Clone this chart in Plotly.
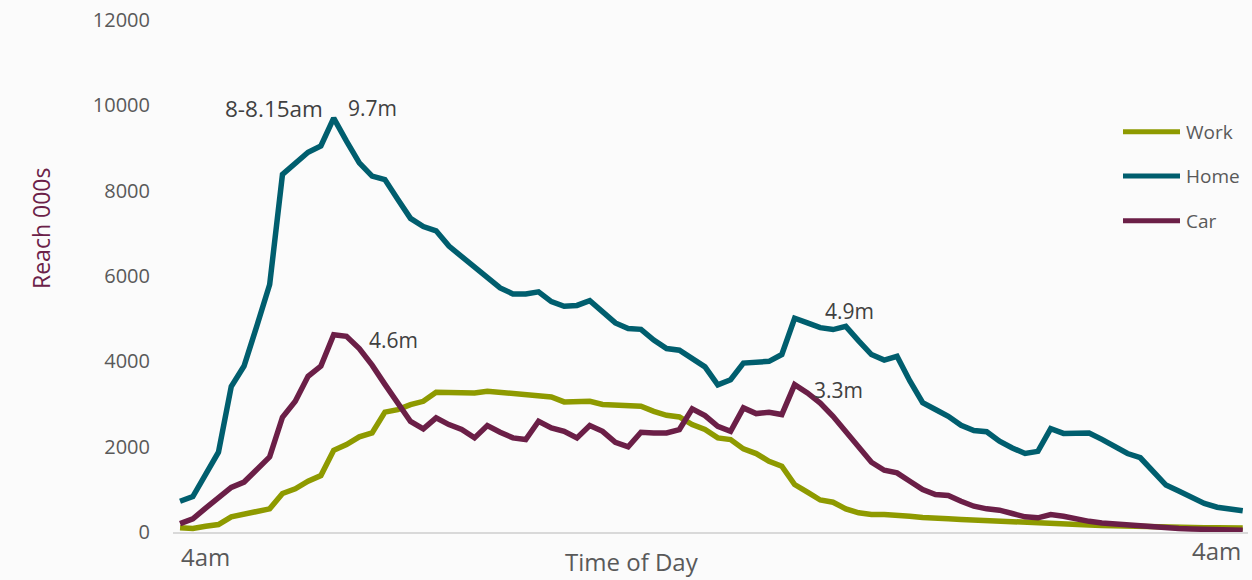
import plotly.graph_objects as go

# ---- data (84 time slots, 4am -> 4am) ----
work = [98, 82, 136, 176, 356, 410, 464, 543, 902, 1012,
        1190, 1323, 1916, 2049, 2229, 2323, 2810, 2869, 2986, 3063,
        3274, 3274, 3274, 3260, 3298, 3274, 3244, 3244, 3220, 3166,
        3049, 3049, 3063, 2990, 2986, 2963, 2946, 2829, 2736, 2697,
        2518, 2401, 2206, 2166, 1948, 1838, 1658, 1541, 1112, 932,
        750, 698, 543, 450, 410, 410, 402, 371, 340, 340,
        309, 293, 277, 277, 246, 230, 215, 215, 205, 195,
        180, 165, 150, 140, 135, 125, 118, 112, 108, 105,
        100, 98, 95, 92]
home = [720, 830, 1350, 1870, 3410, 3890, 4830, 5800, 8380, 8650,
        8900, 9050, 9700, 9160, 8650, 8340, 8260, 7800, 7350, 7160,
        7060, 6700, 6450, 6230, 5950, 5720, 5580, 5580, 5630, 5400,
        5290, 5310, 5420, 5140, 4900, 4770, 4750, 4500, 4300, 4260,
        4080, 3870, 3450, 3570, 3960, 3980, 4000, 4160, 5010, 4900,
        4790, 4745, 4820, 4480, 4160, 4030, 4117, 3540, 3030, 2870,
        2710, 2500, 2380, 2350, 2130, 1970, 1840, 1890, 2420, 2310,
        2310, 2320, 2170, 2010, 1840, 1740, 1420, 1100, 960, 820,
        670, 580, 540, 500]
car = [195, 310, 560, 820, 1045, 1170, 1464, 1761, 2690, 3063,
       3649, 3890, 4625, 4586, 4300, 3910, 3460, 3030, 2590, 2417,
       2675, 2518, 2401, 2206, 2494, 2338, 2206, 2166, 2595, 2440,
       2361, 2206, 2494, 2360, 2104, 1995, 2338, 2323, 2323, 2401,
       2885, 2728, 2478, 2361, 2909, 2775, 2806, 2752, 3454, 3260,
       3020, 2712, 2361, 1972, 1635, 1448, 1386, 1190, 995, 878,
       855, 722, 605, 543, 511, 433, 356, 332, 410, 370,
       300, 250, 210, 185, 160, 140, 120, 95, 80, 70,
       60, 55, 45, 40]
slots = list(range(len(home)))
series_names = ["Work", "Home", "Car"]
y_ticks = [0, 2000, 4000, 6000, 8000, 10000, 12000]
y_tick_text = ["0", "2000", "4000", "6000", "8000", "10000", "12000"]
end_labels = ["4am", "4am"]

colors = {"Work": "#8E9A00", "Home": "#005E6E", "Car": "#6B1F47"}
FONT = "Open Sans"
GREY = "#595959"

W, H = 1252, 580
L, R, T, B = 173, 4, 20, 48
PW, PH = W - L - R, H - T - B


def px(x):
    return (x - L) / PW


def py(y):
    return (H - B - y) / PH


fig = go.Figure()
for name, vals in zip(series_names, [work, home, car]):
    fig.add_trace(go.Scatter(x=slots, y=vals, mode="lines", name=name,
                             line=dict(color=colors[name], width=5.5),
                             showlegend=False))

annotations = [
    dict(text="Reach 000s", x=px(41), y=py(229), textangle=-90,
         font=dict(size=23, color="#6B2148")),
    dict(text="Time of Day", x=px(632), y=py(561), font=dict(size=24, color=GREY)),
    dict(text=end_labels[0], x=px(205), y=py(556), font=dict(size=24, color=GREY)),
    dict(text=end_labels[1], x=px(1216), y=py(550), font=dict(size=24, color=GREY)),
    dict(text="8-8.15am", x=px(274), y=py(108), font=dict(size=22.5, color="#404040")),
    dict(text="9.7m", x=px(372), y=py(108), font=dict(size=21, color="#404040")),
    dict(text="4.6m", x=px(393), y=py(340), font=dict(size=21, color="#404040")),
    dict(text="4.9m", x=px(849), y=py(311), font=dict(size=21, color="#404040")),
    dict(text="3.3m", x=px(838), y=py(390), font=dict(size=21, color="#404040")),
]
shapes = []
legend_rows = [131.7, 176, 220.7]
for name, yy in zip(series_names, legend_rows):
    shapes.append(dict(type="line", xref="paper", yref="paper",
                       x0=px(1123), x1=px(1180), y0=py(yy), y1=py(yy),
                       line=dict(color=colors[name], width=5)))
    annotations.append(dict(text=name, x=px(1184), y=py(yy), xanchor="left",
                            font=dict(size=19, color=GREY)))

for a in annotations:
    a.setdefault("xref", "paper")
    a.setdefault("yref", "paper")
    a.setdefault("showarrow", False)
    a.setdefault("xanchor", "center")
    a.setdefault("yanchor", "middle")

fig.update_layout(
    width=W, height=H,
    margin=dict(l=L, r=R, t=T, b=B, pad=0),
    paper_bgcolor="#FBFBFB", plot_bgcolor="#FBFBFB",
    font=dict(family=FONT, color=GREY),
    xaxis=dict(range=[-0.55, 83.41], showgrid=False, zeroline=False,
               showticklabels=False, ticks="", showline=True,
               linecolor="#D9D9D9", linewidth=2),
    yaxis=dict(range=[0, 12000], tickvals=y_ticks, ticktext=y_tick_text,
               showgrid=False, zeroline=False, showline=False, ticks="",
               ticklabelstandoff=22,
               tickfont=dict(size=20, color=GREY, family=FONT)),
    annotations=annotations,
    shapes=shapes,
    showlegend=False,
)

fig.write_html("out.html")
